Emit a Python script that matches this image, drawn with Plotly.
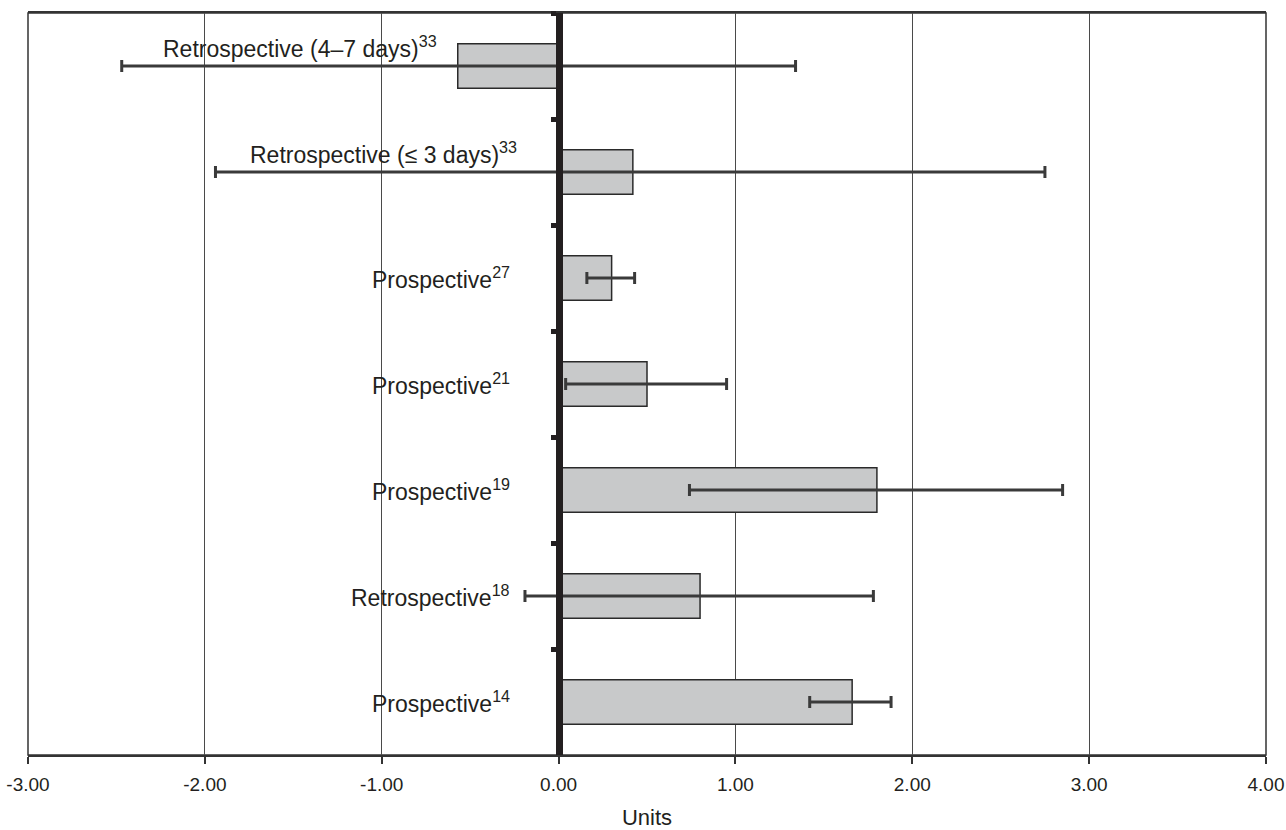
import plotly.graph_objects as go

# ---- data ----
designs = ["Retrospective (4–7 days)", "Retrospective (≤ 3 days)", "Prospective",
           "Prospective", "Prospective", "Retrospective", "Prospective"]
refs = ["33", "33", "27", "21", "19", "18", "14"]
mean_diff = [-0.57, 0.42, 0.30, 0.50, 1.80, 0.80, 1.66]
ci_low = [-2.47, -1.94, 0.16, 0.04, 0.74, -0.19, 1.42]
ci_high = [1.34, 2.75, 0.43, 0.95, 2.85, 1.78, 1.88]
x_ticks = [-3, -2, -1, 0, 1, 2, 3, 4]
x_ticklabels = ["-3.00", "-2.00", "-1.00", "0.00", "1.00", "2.00", "3.00", "4.00"]
x_title = "Units"

categories = [f"{d}<sup>{r}</sup>" for d, r in zip(designs, refs)]

# ---- label placement styles (pixels) ----
label_xshift = [-120, -40, -47, -47, -47, -47, -47]
label_yshift = [19, 19, 0, 0, 0, 0, 0]

FONT = "Liberation Sans, Arial, Helvetica, sans-serif"

fig = go.Figure()
fig.add_trace(go.Bar(
    x=mean_diff,
    y=categories,
    orientation="h",
    width=0.42,
    marker=dict(color="#c8c9ca", line=dict(color="#2a2a2a", width=1.5)),
    error_x=dict(
        type="data",
        symmetric=False,
        array=[h - m for h, m in zip(ci_high, mean_diff)],
        arrayminus=[m - l for m, l in zip(mean_diff, ci_low)],
        color="#3a3a3a",
        thickness=3,
        width=6,
    ),
    hoverinfo="skip",
    showlegend=False,
))

for cat, xs, ys in zip(categories, label_xshift, label_yshift):
    fig.add_annotation(
        x=0, y=cat, xref="x", yref="y",
        text=cat, showarrow=False,
        xanchor="right", yanchor="middle",
        xshift=xs, yshift=ys,
        font=dict(family=FONT, size=23, color="#231f20"),
    )

# plot-area frame
fig.add_shape(type="rect", xref="paper", yref="paper", x0=0, x1=1, y0=0, y1=1,
              line=dict(color="#333333", width=1.5), fillcolor="rgba(0,0,0,0)",
              layer="below")

fig.update_layout(
    width=1286, height=830,
    margin=dict(l=28, r=20, t=13, b=75, autoexpand=False),
    paper_bgcolor="white", plot_bgcolor="white",
    font=dict(family=FONT, color="#231f20"),
    xaxis=dict(
        range=[-3, 4],
        tickvals=x_ticks, ticktext=x_ticklabels,
        showgrid=True, gridcolor="#4a4a4a", gridwidth=1,
        zeroline=False,
        showline=True, linecolor="#333333", linewidth=1.5, mirror=True,
        ticks="outside", ticklen=7, tickwidth=1.5, tickcolor="#333333",
        tickfont=dict(family=FONT, size=19, color="#231f20"),
        ticklabelstandoff=4,
        title=dict(text=x_title, font=dict(family=FONT, size=22, color="#231f20"), standoff=16),
        automargin=False,
        fixedrange=True,
    ),
    yaxis=dict(
        type="category",
        categoryorder="array", categoryarray=categories,
        range=[6.5, -0.5],
        anchor="free", position=3 / 7,
        showline=True, linecolor="#231f20", linewidth=7,
        ticks="outside", tickson="boundaries", ticklen=5, tickwidth=5, tickcolor="#231f20",
        showticklabels=False, showgrid=False, zeroline=False,
        automargin=False,
        fixedrange=True,
    ),
    bargap=0.58,
)

fig.write_html(
    "out.html",
    config={"displayModeBar": False, "responsive": False},
    post_script="document.body.style.margin='0';document.body.style.overflow='hidden';",
)
